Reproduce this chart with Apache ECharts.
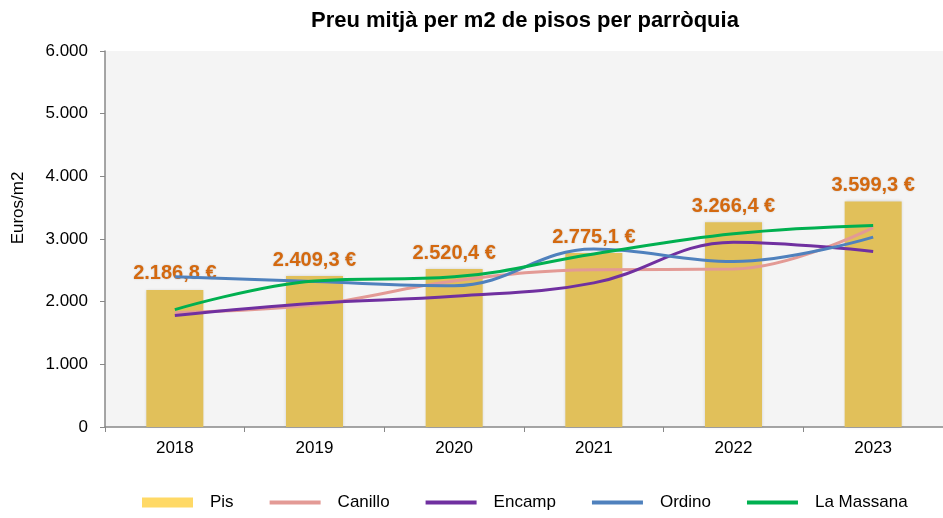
<!DOCTYPE html>
<html>
<head>
<meta charset="utf-8">
<script src="https://cdn.jsdelivr.net/npm/echarts@6/dist/echarts.min.js"></script>
<style>html,body{margin:0;padding:0;background:#fff}#c{width:943px;height:518px}</style>
</head>
<body>
<div id="c"></div>
<script>
var years = ['2018', '2019', '2020', '2021', '2022', '2023'];
var pis = [2186.8, 2409.3, 2520.4, 2775.1, 3266.4, 3599.3];
var canillo = [1825, 1950, 2330, 2510, 2520, 3180];
var encamp = [1780, 1975, 2085, 2300, 2950, 2800];
var ordino = [2397, 2320, 2255, 2840, 2640, 3030];
var laMassana = [1873, 2330, 2397, 2762, 3085, 3217];
var yTicks = [0, 1000, 2000, 3000, 4000, 5000, 6000];

function fmt(v, dec) {
  var s = v.toFixed(dec).split('.');
  var i = s[0].replace(/\B(?=(\d{3})+(?!\d))/g, '.');
  return dec ? i + ',' + s[1] : i;
}

var chart = echarts.init(document.getElementById('c'), null, {renderer: 'canvas'});
function lineSeries(name, data, color) {
  return {
    name: name, type: 'line', data: data, smooth: 0.4, symbol: 'none',
    lineStyle: {color: color, width: 3}, itemStyle: {color: color}, z: 3
  };
}
function legendLine(name) {
  return {name: name, itemStyle: {opacity: 0}, lineStyle: {width: 4}};
}
chart.setOption({
  animation: false,
  textStyle: {fontFamily: 'Liberation Sans, Arial, sans-serif'},
  title: {
    text: 'Preu mitjà per m2 de pisos per parròquia',
    left: 306, top: 5,
    textStyle: {fontSize: 22, fontWeight: 'bold', color: '#000'}
  },
  graphic: [{
    type: 'text', x: 18, y: 208, rotation: Math.PI / 2,
    style: {text: 'Euros/m2', fontSize: 17, fill: '#000', align: 'center', verticalAlign: 'middle',
      fontFamily: 'Liberation Sans, Arial, sans-serif'}
  }],
  grid: {left: 105, right: 0, top: 51, bottom: 91, show: true, backgroundColor: '#f4f4f4', borderWidth: 0},
  legend: {
    bottom: 2, left: 137, itemGap: 34, itemWidth: 51, itemHeight: 10,
    textStyle: {fontSize: 17, color: '#000', padding: [0, 0, 0, 12]},
    data: [
      {name: 'Pis', icon: 'rect', itemStyle: {color: '#ffd966'}},
      legendLine('Canillo'), legendLine('Encamp'), legendLine('Ordino'), legendLine('La Massana')
    ]
  },
  xAxis: {
    type: 'category', data: years, boundaryGap: true,
    axisLine: {lineStyle: {color: '#888', width: 1.5}},
    axisTick: {show: true, length: 5, lineStyle: {color: '#888'}},
    axisLabel: {fontSize: 17, color: '#000', margin: 13}
  },
  yAxis: {
    type: 'value', min: 0, max: 6000, interval: 1000,
    axisLine: {show: true, lineStyle: {color: '#888', width: 1.5}},
    axisTick: {show: true, length: 5, lineStyle: {color: '#888'}},
    splitLine: {show: false},
    axisLabel: {fontSize: 17, color: '#000', margin: 17, formatter: function (v) { return fmt(v, 0); }}
  },
  series: [
    {
      name: 'Pis', type: 'bar', data: pis, barWidth: 57,
      itemStyle: {color: '#e1c05a', shadowColor: 'rgba(0,0,0,0.15)', shadowBlur: 3},
      label: {
        show: true, position: 'top', distance: 6,
        color: '#d4690f', fontSize: 20, fontWeight: 'bold',
        textShadowColor: 'rgba(0,0,0,0.2)', textShadowBlur: 2,
        formatter: function (p) { return fmt(p.value, 1) + ' €'; }
      }, z: 2
    },
    lineSeries('Canillo', canillo, '#e39a95'),
    lineSeries('Encamp', encamp, '#7030a0'),
    lineSeries('Ordino', ordino, '#4f81bd'),
    lineSeries('La Massana', laMassana, '#00b050')
  ]
});
</script>
</body>
</html>
